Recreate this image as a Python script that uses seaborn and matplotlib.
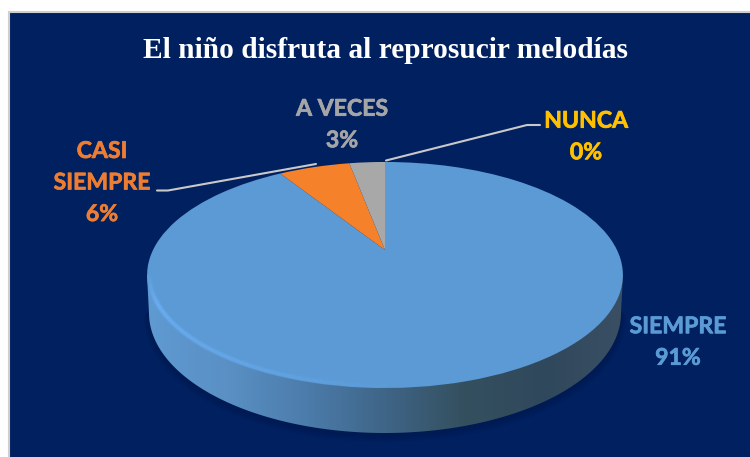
import numpy as np
import matplotlib
matplotlib.use('Agg')
import matplotlib.pyplot as plt
import matplotlib.patheffects as pe
import matplotlib.transforms as mtrans
from matplotlib.collections import LineCollection
from matplotlib.colors import LinearSegmentedColormap, to_rgba
from matplotlib.patches import Polygon, Rectangle
import seaborn as sns

# Data
title = "El niño disfruta al reprosucir melodías"
categories = ['SIEMPRE', 'CASI\nSIEMPRE', 'A VECES', 'NUNCA']
values = [91, 6, 3, 0]
colors = ['#5b9ad5', '#f5822a', '#a8a8a8', '#ffc000']
label_colors = ['#5b9bd5', '#ed7d31', '#a5a5a5', '#ffc000']
label_pos = [(678, 342.5), (102, 183), (342, 125), (586, 137)]

sns.set_theme(style='white')
plt.rcParams['font.family'] = ['Lato', 'DejaVu Sans']

BG = '#002060'
# top surface of the disc, in pixels
CX, CY, RX, RY = 385, 275, 238, 113
APEX_Y = 250
# bottom edge of the rim
RIM_CY, RIM_RX, RIM_RY = 313, 236, 120


class Tilt(mtrans.Transform):
    """Perspective map from the unit pie to picture pixels."""
    input_dims = 2
    output_dims = 2
    is_separable = False
    has_inverse = False

    def transform_non_affine(self, values):
        xy = np.asarray(values)
        k = 0.2212
        w = 1 + k * xy[:, 1]
        px = CX + 232 * xy[:, 0] / w
        py = APEX_Y - 107.5 * xy[:, 1] / w
        return np.column_stack([px, py])


fig = plt.figure(figsize=(7.5, 4.57), dpi=100, facecolor='white')
ax = fig.add_axes([0, 0, 1, 1])

# Pie, then tilted with the transform above
wedges, _ = ax.pie(values, colors=sns.color_palette(colors), startangle=90,
                   counterclock=False, radius=1)
ax.set_aspect('auto')
tilt = Tilt() + ax.transData

ax.add_patch(Rectangle((8.5, 11.5), 760, 460, facecolor=BG, edgecolor='#cfcfcf',
                       lw=1.5, zorder=0))

t = np.radians(np.linspace(180, 360, 200))
rim_x = CX + RIM_RX * np.cos(t)
rim_y = RIM_CY - RIM_RY * np.sin(t)

# soft shadow under the rim
for off, a in [(7, 0.10), (5, 0.12), (3, 0.18)]:
    ax.plot(rim_x, rim_y + off * 0.6, color='#001440', lw=off, alpha=a, zorder=1)

# Rim with a left to right shade
rim_cmap = LinearSegmentedColormap.from_list(
    'rim', ['#5f9ad2', '#5a90c4', '#4c7cab', '#3f6587', '#34505f', '#30485c', '#3a4f63'])
verts = [(CX - RX, CY)] + list(zip(rim_x, rim_y)) + [(CX + RX, CY)]
img = ax.imshow(np.linspace(0, 1, 256)[None, :], cmap=rim_cmap, aspect='auto',
                extent=(CX - RX, CX + RX, 440, 260), zorder=2)
img.set_clip_path(Polygon(verts, closed=True, transform=ax.transData))

for w in wedges:
    w.set_transform(tilt)
    w.set_edgecolor('none')
    w.set_linewidth(0)
    w.set_zorder(3)

# Bevel highlight along the lower left edge
a = np.radians(np.linspace(178, 285, 120))
hx = CX + (RX - 2.5) * np.cos(a)
hy = CY - (RY - 2.5) * np.sin(a)
pts = np.column_stack([hx, hy])
segs = np.stack([pts[:-1], pts[1:]], axis=1)
fade = np.clip(np.minimum(np.linspace(0, 6, len(segs)), np.linspace(1.1, -0.1, len(segs))), 0, 1)
for lw, alpha in [(4.5, 0.25), (2.5, 0.65)]:
    ax.add_collection(LineCollection(segs, linewidths=lw, zorder=4,
                                     colors=[to_rgba('#70b4fb', f * alpha) for f in fade]))

# Leader lines
ax.plot([157, 168, 316], [190.5, 190.5, 164], color='#c9c9c9', lw=1.5, zorder=5)
ax.plot([386, 527, 540], [160.5, 125, 125], color='#c9c9c9', lw=1.5, zorder=5)

# Labels
for name, val, col, (lx, ly) in zip(categories, values, label_colors, label_pos):
    ax.text(lx, ly, f"{name}\n{val}%", color=col, fontsize=16.6, fontweight='bold',
            ha='center', va='center', linespacing=1.62, zorder=6,
            path_effects=[pe.withStroke(linewidth=0.5, foreground=col)])

ax.text(385.5, 51, title, color='white', fontsize=21.2, fontweight='bold',
        family='Liberation Serif', ha='center', va='center', zorder=6)

ax.set_xlim(0, 750)
ax.set_ylim(457, 0)
ax.axis('off')

fig.savefig('out.png', dpi=100, facecolor='white')
